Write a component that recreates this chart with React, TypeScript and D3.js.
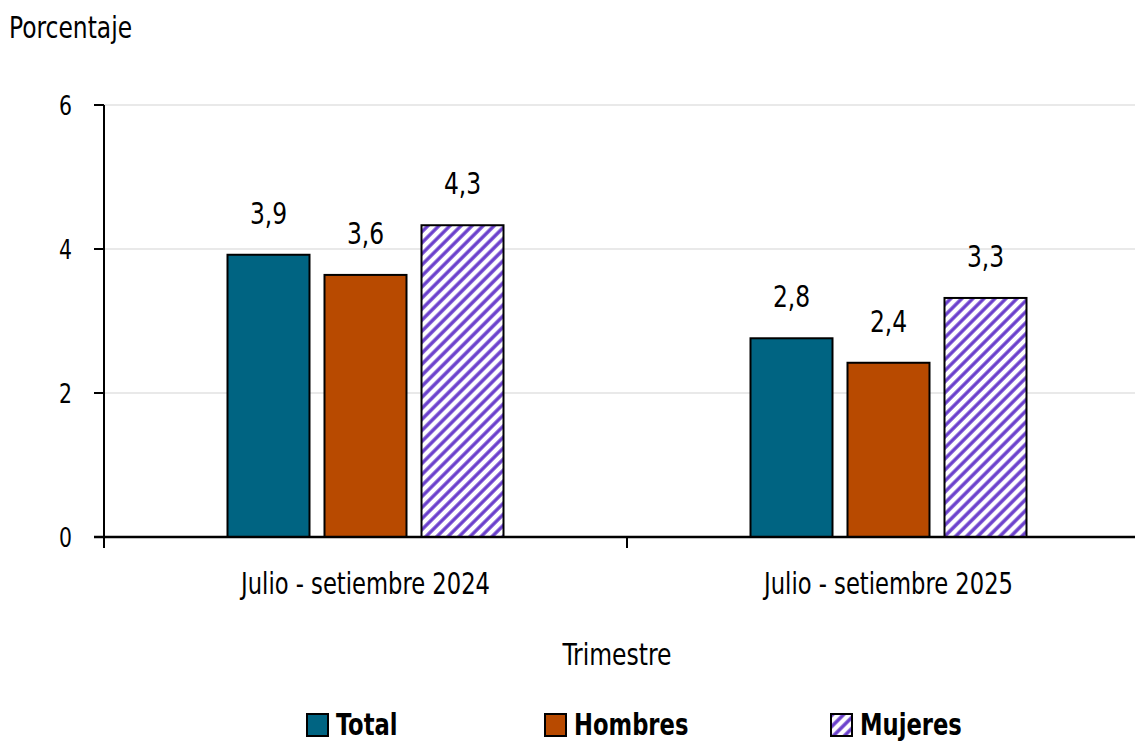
import React from 'react';
import * as d3 from 'd3';

const categories = ['Julio - setiembre 2024', 'Julio - setiembre 2025'];
const seriesNames = ['Total', 'Hombres', 'Mujeres'];
const total = [3.92, 2.76];
const hombres = [3.64, 2.42];
const mujeres = [4.33, 3.32];
const yTicks = [0, 2, 4, 6];

const colors = ['#006482', '#B84A00', 'url(#hatch)'];
const FONT = '"Liberation Sans Narrow", "DejaVu Sans Condensed", sans-serif';
const SX = 0.84;

// texto estrechado horizontalmente para imitar la fuente condensada
function T({ x, y, size, anchor = 'start', bold = false, dy, sx = SX, children }: any) {
  return (
    <text
      transform={`translate(${x},${y}) scale(${sx},1)`}
      textAnchor={anchor}
      fontSize={size}
      fontWeight={bold ? 'bold' : 'normal'}
      dy={dy}
      fill="#000"
    >
      {children}
    </text>
  );
}

export default function App() {
  const W = 1135;
  const H = 742;
  const left = 104;
  const top = 105;
  const bottom = 537;

  const x = d3.scaleBand().domain(categories).range([left, left + 523 * 2]);
  const y = d3.scaleLinear().domain([0, 6]).range([bottom, top]);
  const barW = 82;
  const step = 97;
  const series = [total, hombres, mujeres];
  const fmt = (v: number) => v.toFixed(1).replace('.', ',');

  const legendX = [307, 545, 831];

  return (
    <svg width={W} height={H} style={{ position: 'absolute', left: 0, top: 0, background: '#fff' }} fontFamily={FONT}>
      <defs>
        <pattern id="hatch" patternUnits="userSpaceOnUse" width={7.8} height={7.8} patternTransform="rotate(45)">
          <rect width={7.8} height={7.8} fill="#fff" />
          <line x1={2} y1={0} x2={2} y2={7.8} stroke="#6A3FCC" strokeWidth={3.4} />
        </pattern>
      </defs>
      <rect width={W} height={H} fill="#fff" />
      <T x={9} y={38} size={31}>Porcentaje</T>

      {yTicks.filter(t => t > 0).map(t => (
        <line key={t} x1={left} x2={W} y1={y(t)} y2={y(t)} stroke="#d4d4d4" strokeWidth={1.2} />
      ))}

      {categories.map((c, ci) =>
        series.map((s, si) => {
          const cx = x(c)! + x.bandwidth() / 2;
          const bx = cx - barW / 2 + (si - 1) * step;
          return (
            <g key={c + si}>
              <rect x={bx} y={y(s[ci])} width={barW} height={bottom - y(s[ci])} fill={colors[si]} stroke="#000" strokeWidth={2} />
              <T x={bx + barW / 2} y={y(s[ci]) - 31} size={31} anchor="middle">{fmt(s[ci])}</T>
            </g>
          );
        })
      )}

      {/* ejes */}
      <line x1={left} x2={left} y1={top} y2={bottom} stroke="#000" strokeWidth={2} />
      {yTicks.map(t => (
        <g key={t}>
          <line x1={left - 10} x2={left} y1={y(t)} y2={y(t)} stroke="#000" strokeWidth={2} />
          <T x={72} y={y(t)} dy="0.36em" size={27} anchor="end">{t}</T>
        </g>
      ))}
      <line x1={left - 10} x2={W} y1={bottom} y2={bottom} stroke="#000" strokeWidth={2.5} />
      {[...categories.map(c => x(c)!), left + 523 * 2].map((t, i) => (
        <line key={i} x1={t} x2={t} y1={bottom} y2={bottom + 11} stroke="#000" strokeWidth={2} />
      ))}
      {categories.map(c => (
        <T key={c} x={x(c)! + x.bandwidth() / 2} y={594} size={30} anchor="middle">{c}</T>
      ))}
      <T x={617} y={665} size={30} sx={0.87} anchor="middle">Trimestre</T>

      {seriesNames.map((n, i) => (
        <g key={n}>
          <rect x={legendX[i]} y={714} width={21} height={22} fill={colors[i]} stroke="#000" strokeWidth={2} />
          <T x={legendX[i] + 29} y={735} size={30} bold>{n}</T>
        </g>
      ))}
    </svg>
  );
}
